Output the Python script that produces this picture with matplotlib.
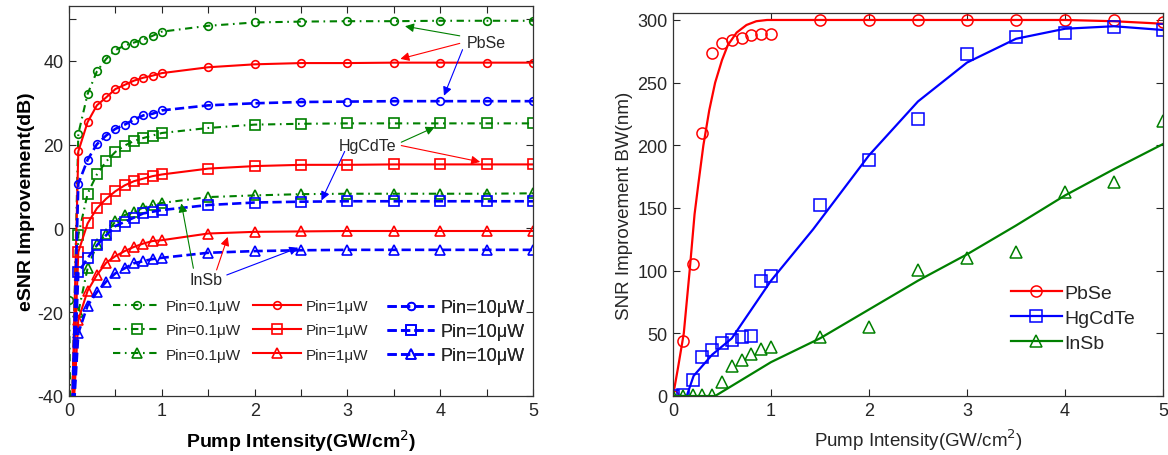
import numpy as np
import matplotlib
matplotlib.use('Agg')
import matplotlib.pyplot as plt

plt.rcParams['font.family'] = ['Liberation Sans', 'DejaVu Sans']

nan = np.nan

# ---- left panel: eSNR improvement vs pump intensity ----
pump = [0, 0.02, 0.1, 0.2, 0.3, 0.4, 0.5, 0.6, 0.7, 0.8, 0.9, 1.0,
        1.5, 2.0, 2.5, 3.0, 3.5, 4.0, 4.5, 5.0]
pbse_01 = [-17, -55, 22.6, 32.1, 37.5, 40.5, 42.6, 43.7, 44.4, 45.1, 46.0, 47.0,
           48.4, 49.2, 49.4, 49.5, 49.5, 49.6, 49.6, 49.6]
pbse_1 = [nan, -55, 18.4, 25.4, 29.4, 31.3, 33.3, 34.3, 35.3, 36.0, 36.5, 37.1,
          38.5, 39.2, 39.5, 39.5, 39.6, 39.6, 39.6, 39.6]
pbse_10 = [nan, -55, 10.7, 16.4, 20.1, 22.2, 23.8, 24.8, 26.0, 27.0, 27.4, 28.2,
           29.4, 29.9, 30.2, 30.3, 30.4, 30.4, 30.4, 30.4]
hgcdte_01 = [nan, -55, -1.6, 8.3, 12.9, 16.0, 18.3, 19.8, 20.9, 21.6, 22.2, 22.8,
             24.0, 24.8, 25.0, 25.1, 25.1, 25.1, 25.1, 25.1]
hgcdte_1 = [nan, -55, -5.6, 1.2, 4.8, 7.1, 8.9, 10.3, 11.3, 11.9, 12.5, 12.9,
            14.3, 14.9, 15.2, 15.2, 15.3, 15.3, 15.3, 15.3]
hgcdte_10 = [nan, -55, -10.5, -7.1, -4.0, -1.6, 0.6, 1.6, 2.6, 3.6, 4.0, 4.4,
             5.6, 6.2, 6.4, 6.5, 6.5, 6.5, 6.5, 6.5]
insb_01 = [nan, -55, -20, -9.5, -3.8, -1.2, 1.7, 3.2, 4.0, 5.0, 5.6, 6.1,
           7.5, 7.9, 8.2, 8.3, 8.3, 8.3, 8.3, 8.4]
insb_1 = [nan, -55, -21.8, -14.9, -11.1, -8.2, -6.6, -5.4, -4.4, -3.6, -3.0, -2.8,
          -1.2, -0.8, -0.7, -0.6, -0.6, -0.6, -0.6, -0.6]
insb_10 = [nan, -55, -25, -18.4, -15.2, -12.7, -10.7, -9.5, -8.3, -7.8, -7.3, -7.0,
           -5.8, -5.4, -5.2, -5.1, -5.1, -5.1, -5.1, -5.1]

# ---- right panel: SNR improvement bandwidth ----
bw_x = [0, 0.1, 0.2, 0.3, 0.4, 0.5, 0.6, 0.7, 0.8, 0.9, 1.0,
        1.5, 2.0, 2.5, 3.0, 3.5, 4.0, 4.5, 5.0]
pbse_bw = [0, 44, 105, 210, 274, 282, 284, 286, 288, 289, 289,
           300, 300, 300, 300, 300, 300, 300, 298]
hgcdte_bw = [0, 1, 12.8, 31, 36.7, 42, 44.7, 46.8, 48.1, 92, 95.5,
             152.4, 188.3, 221, 273, 286.8, 290, 294, 292]
insb_bw = [0, 0, 1, 1, 1, 11, 23.6, 29, 33.5, 37.5, 38.8,
           46.8, 54.8, 100.8, 110, 114.6, 163, 171, 219]

pbse_fit_x = [0, 0.05, 0.11, 0.17, 0.22, 0.26, 0.31, 0.37, 0.43, 0.5, 0.56,
              0.65, 0.75, 0.85, 0.96, 2, 3, 4, 4.5, 5]
pbse_fit = [0, 22, 50, 100, 145, 170, 200, 228, 250, 268, 280,
            290, 296, 299, 300, 300, 300, 300, 299, 297]
hgcdte_fit_x = [0, 0.14, 0.21, 0.4, 0.6, 0.8, 1.0, 1.43, 2.0, 2.5, 3.0, 3.5, 4.0, 4.5, 5.0]
hgcdte_fit = [0, 0, 16, 33, 46, 69, 92, 133, 192, 235, 266, 285, 293, 295, 292]
insb_fit_x = [0, 0.43, 1.0, 1.5, 2.0, 2.5, 3.0, 3.5, 4.0, 4.5, 5.0]
insb_fit = [0, 0, 27, 46, 69, 92, 113, 136, 160, 181, 201]

GREEN = '#008000'
RED = '#ff0000'
BLUE = '#0000ff'
TXT = '#262626'

fig = plt.figure(figsize=(11.68, 4.56), dpi=100)
ax1 = fig.add_axes([0.0591, 0.1294, 0.3973, 0.855])
ax2 = fig.add_axes([0.5762, 0.1294, 0.4195, 0.84])

dashdot = (0, (3.5, 2.2, 0.8, 2.2))
dashed = (0, (3.5, 1.6))

groups = [
    # (series, colour, linestyle, lw, label)
    ([pbse_01, hgcdte_01, insb_01], GREEN, dashdot, 1.5, 'Pin=0.1\u03bcW'),
    ([pbse_1, hgcdte_1, insb_1], RED, '-', 1.5, 'Pin=1\u03bcW'),
    ([pbse_10, hgcdte_10, insb_10], BLUE, dashed, 1.9, 'Pin=10\u03bcW'),
]
markers = ['o', 's', '^']
msizes = [5.5, 6.5, 6.5]
leg_handles = []
for series, col, ls, lw, lab in groups:
    hs = []
    for s, m, ms in zip(series, markers, msizes):
        h, = ax1.plot(pump, s, color=col, ls=ls, lw=lw, marker=m, ms=ms,
                      mfc='none', mec=col, mew=1.2, label=lab)
        hs.append(h)
    leg_handles.append(hs)

ax1.set_xlim(0, 5)
ax1.set_ylim(-40, 53.1)
ax1.set_xticks(np.arange(0, 5.01, 0.5))
ax1.set_xticklabels(['0', '', '1', '', '2', '', '3', '', '4', '', '5'])
ax1.set_yticks([-40, -20, 0, 20, 40, 50])
ax1.set_yticklabels(['-40', '-20', '0', '20', '40', ''])
ax1.set_xlabel('Pump Intensity(GW/cm$^2$)', fontsize=14, fontweight='bold', labelpad=6)
ax1.set_ylabel('eSNR Improvement(dB)', fontsize=14, fontweight='bold', labelpad=2)

# three legend columns, the last one in a larger font as in the figure
leg_specs = [(0.095, 11, 0.68), (0.397, 11, 0.68), (0.685, 13, 0.39)]
for hs, (x0, fs, sp) in zip(leg_handles, leg_specs):
    lg = ax1.legend(handles=hs, loc='upper left', bbox_to_anchor=(x0, 0.249),
                    frameon=False, fontsize=fs, handlelength=3.1 * 11 / fs,
                    handletextpad=0.35, labelspacing=sp, borderpad=0,
                    borderaxespad=0)
    for t in lg.get_texts():
        t.set_color(TXT)
    ax1.add_artist(lg)

# material annotations
arrow_kw = dict(lw=0.8, mutation_scale=13)
ann = [
    ('PbSe', (4.29, 44.5), [((4.21, 46.0), (3.62, 48.3), GREEN),
                            ((4.21, 44.2), (3.57, 40.5), RED),
                            ((4.24, 42.7), (4.04, 31.7), BLUE)]),
    ('HgCdTe', (2.91, 19.8), [((3.58, 20.6), (3.94, 24.2), GREEN),
                              ((3.58, 19.8), (4.43, 15.9), RED),
                              ((2.97, 18.4), (2.72, 6.7), BLUE)]),
    ('InSb', (1.30, -12.1), [((1.34, -9.5), (1.21, 6.0), GREEN),
                             ((1.59, -9.9), (1.71, -2.0), RED),
                             ((1.70, -11.1), (2.47, -4.6), BLUE)]),
]
for name, pos, arrows in ann:
    ax1.text(pos[0], pos[1], name, fontsize=11.5, color=TXT, ha='left', va='center')
    for tail, head, col in arrows:
        ax1.annotate('', xy=head, xytext=tail,
                     arrowprops=dict(arrowstyle='-|>', color=col, shrinkA=0, shrinkB=0,
                                     **arrow_kw))

# ---- right panel ----
for xs, ys, fx, fy, col, m, lab in [
        (bw_x, pbse_bw, pbse_fit_x, pbse_fit, RED, 'o', 'PbSe'),
        (bw_x, hgcdte_bw, hgcdte_fit_x, hgcdte_fit, BLUE, 's', 'HgCdTe'),
        (bw_x, insb_bw, insb_fit_x, insb_fit, GREEN, '^', 'InSb')]:
    ax2.plot(xs, ys, ls='none', marker=m, ms=8, mfc='none', mec=col, mew=1.1)
    ax2.plot(fx, fy, color=col, lw=1.6)
    ax2.plot([], [], color=col, lw=1.6, marker=m, ms=8, mfc='none', mec=col,
             mew=1.1, label=lab)

ax2.set_xlim(0, 5)
ax2.set_ylim(0, 305.6)
ax2.set_xticks(range(6))
ax2.set_yticks(range(0, 301, 50))
ax2.set_xlabel('Pump Intensity(GW/cm$^2$)', fontsize=13.5, color=TXT, labelpad=6)
ax2.set_ylabel('SNR Improvement BW(nm)', fontsize=13.5, color=TXT, labelpad=3)
lg2 = ax2.legend(loc='upper left', bbox_to_anchor=(0.69, 0.291), frameon=False,
                 fontsize=14, handlelength=2.6, handletextpad=0.15,
                 labelspacing=0.38, borderpad=0, borderaxespad=0)
for t in lg2.get_texts():
    t.set_color(TXT)

for ax in (ax1, ax2):
    ax.tick_params(direction='in', length=5, width=0.8, top=True, right=True,
                   labelsize=13, colors=TXT, pad=4)
    for sp in ax.spines.values():
        sp.set_linewidth(0.9)
        sp.set_color('#333333')

fig.savefig('out.png', dpi=100)
